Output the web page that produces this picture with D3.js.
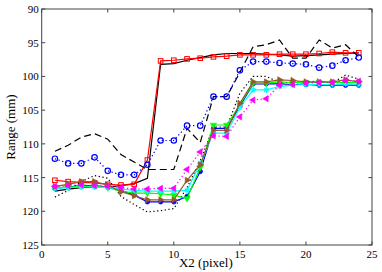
<!DOCTYPE html>
<html>
<head>
<meta charset="utf-8">
<script src="https://cdn.jsdelivr.net/npm/d3@7"></script>
<style>
body { margin: 0; background: #fff; }
svg text { font-family: "Liberation Serif", "DejaVu Serif", serif; }
</style>
</head>
<body>
<div id="chart"></div>
<script>
var width = 382, height = 272;
var margin = {left: 41.7, right: 10, top: 9, bottom: 27};

var xs = d3.range(1, 25);
var xTicks = [0, 5, 10, 15, 20, 25];
var yTicks = [90, 95, 100, 105, 110, 115, 120, 125];

// values, x2 = 1..24
var blackSolid = [117.0,116.7,116.5,116.4,116.4,116.2,115.9,115.1,98.2,98.1,97.6,97.2,96.8,96.6,96.6,96.6,96.7,96.8,97.0,96.9,96.8,96.7,96.6,96.5];
var redSquare = [115.4,115.6,115.7,115.8,116.0,116.1,116.0,112.4,97.7,97.6,97.4,97.3,97.1,97.0,96.8,96.8,96.8,96.7,96.7,96.7,96.6,96.4,96.5,96.5];
var blackDash = [111.1,110.2,109.0,108.5,109.3,111.6,112.7,113.8,113.8,113.8,107.7,109.8,103.0,103.0,99.4,95.6,95.3,94.6,97.3,97.3,94.6,95.8,95.3,97.1];
var blueCircle = [112.2,112.9,112.9,112.0,114.0,114.6,114.6,113.1,109.5,109.5,107.3,107.3,103.0,103.0,99.1,97.8,97.8,98.0,98.1,98.2,98.7,98.4,97.6,97.2];
var blackDot = [117.9,116.9,115.6,114.7,115.1,117.8,119.0,120.1,119.9,119.6,116.5,112.5,107.5,107.5,102.5,100.0,100.0,100.9,100.9,100.8,100.7,101.0,99.8,100.4];
var blueDot = [116.6,116.4,116.2,116.2,116.4,116.9,117.6,118.6,118.6,118.6,117.8,114.1,107.7,107.7,104.4,101.1,101.1,101.1,101.2,101.2,101.3,101.3,101.3,101.3];
var greenTri = [116.5,116.4,116.3,116.3,116.5,117.0,117.3,117.3,117.4,117.6,118.1,113.5,107.2,107.2,104.2,101.0,101.0,100.8,100.9,100.9,100.9,100.9,100.9,100.9];
var cyanStar = [116.6,116.5,116.4,116.4,116.5,116.7,116.9,117.0,117.0,117.0,116.9,112.9,108.4,108.4,104.6,102.0,102.0,101.5,101.3,101.2,101.2,101.2,101.1,101.2];
var brownTri = [116.3,116.0,115.6,115.6,116.1,117.1,117.7,118.3,118.3,118.3,115.4,113.1,108.0,108.0,104.0,100.8,100.8,100.5,100.6,100.8,100.8,100.8,100.5,100.8];
var magentaTri = [116.3,116.2,116.1,116.2,116.3,116.5,116.7,116.7,116.6,116.6,113.8,111.2,108.8,108.9,106.0,103.5,103.3,101.3,101.2,101.0,100.9,100.9,100.6,100.7];

var series = [
    {values: blackSolid, color: "#000", dash: null, marker: null},
    {values: redSquare, color: "#ff0000", dash: null, marker: "square"},
    {values: blackDash, color: "#000", dash: "7,4", marker: null},
    {values: blueCircle, color: "#0000ff", dash: "1.3,2.5", marker: "circle"},
    {values: blackDot, color: "#000", dash: "1.3,2.5", marker: null},
    {values: blueDot, color: "#0000ff", dash: null, marker: "dot"},
    {values: greenTri, color: "#00ff00", dash: null, marker: "down"},
    {values: cyanStar, color: "#00ffff", dash: null, marker: "star"},
    {values: brownTri, color: "#99582a", dash: null, marker: "right"},
    {values: magentaTri, color: "#ff00ff", dash: "1.3,2.5", marker: "left"}
];

var svg = d3.select("#chart").append("svg")
    .attr("width", width)
    .attr("height", height);

var xScale = d3.scaleLinear().domain([0, 25]).range([margin.left, width - margin.right]);
var yScale = d3.scaleLinear().domain([90, 125]).range([margin.top, height - margin.bottom]);

var plotW = xScale(25) - xScale(0), plotH = yScale(125) - yScale(90);

// clip to the axes box
svg.append("clipPath").attr("id", "clip")
    .append("rect").attr("x", xScale(0)).attr("y", yScale(90)).attr("width", plotW).attr("height", plotH);

var line = d3.line()
    .x(function(d) { return xScale(d.x); })
    .y(function(d) { return yScale(d.y); });

var plot = svg.append("g").attr("clip-path", "url(#clip)");

function triPath(s, angle) {
    // filled triangle pointing in "angle" direction (deg, 0 = up)
    var pts = [[0, -s], [s * 0.87, s * 0.5], [-s * 0.87, s * 0.5]];
    var a = angle * Math.PI / 180;
    return "M" + pts.map(function(p) {
        return [p[0] * Math.cos(a) - p[1] * Math.sin(a), p[0] * Math.sin(a) + p[1] * Math.cos(a)].join(",");
    }).join("L") + "Z";
}

series.forEach(function(s) {
    var pts = s.values.map(function(v, i) { return {x: xs[i], y: v}; });
    plot.append("path")
        .datum(pts)
        .attr("fill", "none")
        .attr("stroke", s.color)
        .attr("stroke-width", 1.2)
        .attr("stroke-dasharray", s.dash)
        .attr("d", line);

    if (!s.marker) return;
    var g = plot.append("g");
    pts.forEach(function(p) {
        var cx = xScale(p.x), cy = yScale(p.y);
        if (s.marker == "square") {
            g.append("rect").attr("x", cx - 2.3).attr("y", cy - 2.3).attr("width", 4.6).attr("height", 4.6)
                .attr("fill", "none").attr("stroke", s.color).attr("stroke-width", 1);
        } else if (s.marker == "circle") {
            g.append("circle").attr("cx", cx).attr("cy", cy).attr("r", 2.7)
                .attr("fill", "none").attr("stroke", s.color).attr("stroke-width", 1.2);
        } else if (s.marker == "dot") {
            g.append("circle").attr("cx", cx).attr("cy", cy).attr("r", 2.2)
                .attr("fill", s.color).attr("stroke", s.color).attr("stroke-width", 0.8);
        } else if (s.marker == "star") {
            var r = 3;
            var d = "M" + (cx - r) + "," + cy + "L" + (cx + r) + "," + cy +
                "M" + cx + "," + (cy - r) + "L" + cx + "," + (cy + r) +
                "M" + (cx - r * 0.7) + "," + (cy - r * 0.7) + "L" + (cx + r * 0.7) + "," + (cy + r * 0.7) +
                "M" + (cx - r * 0.7) + "," + (cy + r * 0.7) + "L" + (cx + r * 0.7) + "," + (cy - r * 0.7);
            g.append("path").attr("d", d).attr("stroke", s.color).attr("stroke-width", 1.1);
        } else {
            var ang = s.marker == "down" ? 180 : (s.marker == "right" ? 90 : -90);
            g.append("path").attr("d", triPath(3.6, ang))
                .attr("transform", "translate(" + cx + "," + cy + ")")
                .attr("fill", s.color).attr("stroke", s.color).attr("stroke-width", 0.6);
        }
    });
});

// axes box
svg.append("rect")
    .attr("x", xScale(0)).attr("y", yScale(90))
    .attr("width", plotW).attr("height", plotH)
    .attr("fill", "none").attr("stroke", "#444").attr("stroke-width", 1);

// inward ticks, both sides
var tickLen = 3.5;
var tg = svg.append("g").attr("stroke", "#444").attr("stroke-width", 1);
xTicks.forEach(function(t) {
    tg.append("line").attr("x1", xScale(t)).attr("x2", xScale(t)).attr("y1", yScale(125)).attr("y2", yScale(125) - tickLen);
    tg.append("line").attr("x1", xScale(t)).attr("x2", xScale(t)).attr("y1", yScale(90)).attr("y2", yScale(90) + tickLen);
});
yTicks.forEach(function(t) {
    tg.append("line").attr("x1", xScale(0)).attr("x2", xScale(0) + tickLen).attr("y1", yScale(t)).attr("y2", yScale(t));
    tg.append("line").attr("x1", xScale(25)).attr("x2", xScale(25) - tickLen).attr("y1", yScale(t)).attr("y2", yScale(t));
});

// tick labels
svg.append("g").selectAll("text").data(xTicks).enter().append("text")
    .attr("x", function(d) { return xScale(d); })
    .attr("y", yScale(125) + 13)
    .attr("text-anchor", "middle")
    .style("font-size", "11px")
    .text(function(d) { return d; });

svg.append("g").selectAll("text").data(yTicks).enter().append("text")
    .attr("x", xScale(0) - 3)
    .attr("y", function(d) { return yScale(d) + 4; })
    .attr("text-anchor", "end")
    .style("font-size", "11px")
    .text(function(d) { return d; });

// axis labels
svg.append("text")
    .attr("x", (xScale(0) + xScale(25)) / 2 - 1)
    .attr("y", height - 5)
    .attr("text-anchor", "middle")
    .style("font-size", "13px")
    .text("X2 (pixel)");

svg.append("text")
    .attr("transform", "translate(15," + (yScale(107.5)) + ") rotate(-90)")
    .attr("text-anchor", "middle")
    .style("font-size", "13px")
    .text("Range (mm)");
</script>
</body>
</html>
